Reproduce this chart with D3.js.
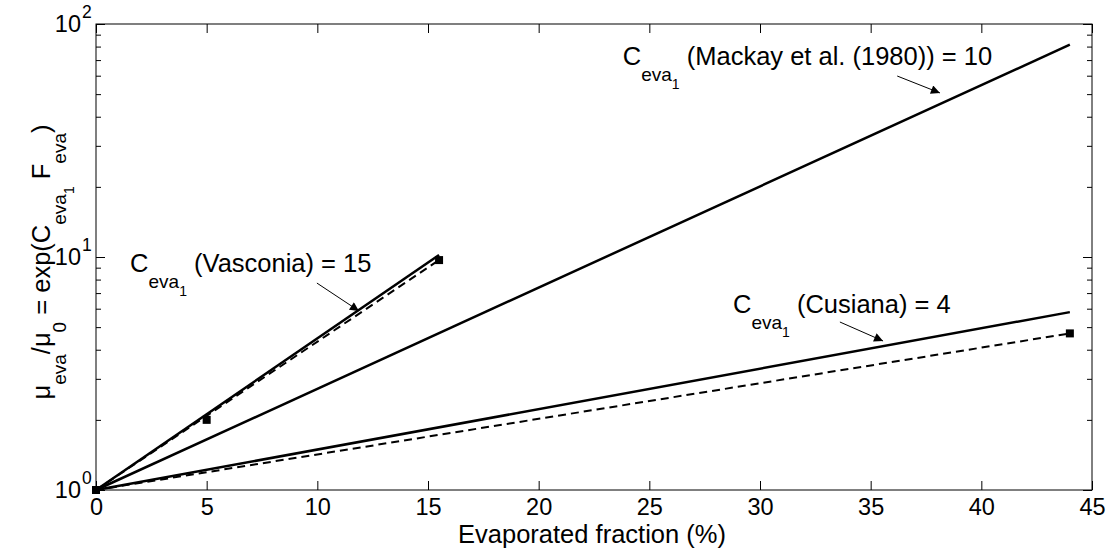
<!DOCTYPE html>
<html>
<head>
<meta charset="utf-8">
<script src="https://cdn.jsdelivr.net/npm/d3@7"></script>
<style>
  html, body { margin: 0; padding: 0; background: #fff; }
  svg { display: block; font-family: "Liberation Sans", Arial, sans-serif; }
</style>
</head>
<body>
<svg id="chart" width="1110" height="549"></svg>
<script>
// ---------- data ----------
const xTicks = [0, 5, 10, 15, 20, 25, 30, 35, 40, 45];
const yTicks = [1, 10, 100];
const yTickExponents = ["0", "1", "2"];
const yMinorTicks = [2, 3, 4, 5, 6, 7, 8, 9, 20, 30, 40, 50, 60, 70, 80, 90];

// model curves mu/mu0 = exp(C*F) (straight on log axis): endpoints [F%, ratio]
const vasconiaModel = [[0, 1], [15.5, 10.2]];
const mackayModel   = [[0, 1], [44, 81.5]];
const cusianaModel  = [[0, 1], [44, 5.8]];

// measured (dashed) fits and measured points
const vasconiaFit = [[0, 1], [15.5, 9.7]];
const cusianaFit  = [[0, 1], [44, 4.7]];
const measuredPoints = [[0, 1], [5, 2.0], [15.5, 9.7], [44, 4.7]];

// annotations: label anchor (data), arrow start & tip (data)
const annotations = [
  { name: "(Vasconia) = 15", at: [1.54, 8.62], from: [9.98, 7.73], to: [11.88, 5.87] },
  { name: "(Mackay et al. (1980)) = 10", at: [23.8, 66.7], from: [36.2, 59.8], to: [38.13, 50.6] },
  { name: "(Cusiana) = 4", at: [28.78, 5.75], from: [33.61, 5.26], to: [35.56, 4.36] }
];

// ---------- layout ----------
const L = 96, R = 1092, T = 24, B = 490;
const svg = d3.select("#chart");
const x = d3.scaleLinear().domain([0, 45]).range([L, R]);
const y = d3.scaleLog().domain([1, 100]).range([B, T]);

const MAIN = 25.5, SUB = 19, SUBSUB = 14;
const SUBSHIFT = 16, SUBSUBSHIFT = 8;

// rich text helper: segments [text, level]
function richText(sel, segs, size0, size1, size2) {
  const sizes = [size0, size1, size2];
  const offs = [0, SUBSHIFT, SUBSHIFT + SUBSUBSHIFT];
  let cur = 0;
  segs.forEach(([t, lvl]) => {
    sel.append("tspan")
      .attr("dy", offs[lvl] - cur)
      .attr("font-size", sizes[lvl])
      .text(t);
    cur = offs[lvl];
  });
}

// ---------- axes ----------
const gx = svg.append("g").attr("transform", `translate(0,${B})`)
  .call(d3.axisBottom(x).tickValues(xTicks).tickSize(-9).tickPadding(8).tickFormat(d3.format("d")));
const gxt = svg.append("g").attr("transform", `translate(0,${T})`)
  .call(d3.axisTop(x).tickValues(xTicks).tickSize(-9).tickFormat(""));
const gyl = svg.append("g").attr("transform", `translate(${L},0)`)
  .call(d3.axisLeft(y).tickValues(yTicks).tickSize(-9).tickFormat(""));
const gyr = svg.append("g").attr("transform", `translate(${R},0)`)
  .call(d3.axisRight(y).tickValues(yTicks).tickSize(-9).tickFormat(""));
const gylm = svg.append("g").attr("transform", `translate(${L},0)`)
  .call(d3.axisLeft(y).tickValues(yMinorTicks).tickSize(-5).tickFormat(""));
const gyrm = svg.append("g").attr("transform", `translate(${R},0)`)
  .call(d3.axisRight(y).tickValues(yMinorTicks).tickSize(-5).tickFormat(""));
[gx, gxt, gyl, gyr, gylm, gyrm].forEach(g => {
  g.select(".domain").remove();
  g.selectAll(".tick line").attr("stroke", "#000").attr("stroke-width", 1);
});
gx.selectAll(".tick text").attr("font-size", 23.5).attr("fill", "#000")
  .attr("font-family", "Liberation Sans, Arial, sans-serif");

// y tick labels 10^n
yTicks.forEach((v, i) => {
  svg.append("text").attr("x", 81).attr("y", y(v) + 8)
    .attr("text-anchor", "end").attr("font-size", 23.5).attr("fill", "#000").text("10");
  svg.append("text").attr("x", 82).attr("y", y(v) - 6)
    .attr("font-size", 17.5).attr("fill", "#000").text(yTickExponents[i]);
});

// box
svg.append("rect").attr("x", L).attr("y", T).attr("width", R - L).attr("height", B - T)
  .attr("fill", "none").attr("stroke", "#000").attr("stroke-width", 1);

// ---------- lines ----------
const line = d3.line().x(d => x(d[0])).y(d => y(d[1]));
[vasconiaModel, mackayModel, cusianaModel].forEach(d => {
  svg.append("path").datum(d).attr("d", line)
    .attr("fill", "none").attr("stroke", "#000").attr("stroke-width", 2.5);
});
[vasconiaFit, cusianaFit].forEach(d => {
  svg.append("path").datum(d).attr("d", line)
    .attr("fill", "none").attr("stroke", "#000").attr("stroke-width", 2)
    .attr("stroke-dasharray", "8,5");
});
svg.selectAll("rect.pt").data(measuredPoints).enter().append("rect")
  .attr("class", "pt")
  .attr("x", d => x(d[0]) - 4).attr("y", d => y(d[1]) - 4)
  .attr("width", 8).attr("height", 8).attr("fill", "#000");

// ---------- annotations ----------
svg.append("defs").append("marker").attr("id", "arr")
  .attr("viewBox", "0 0 10 10").attr("refX", 10).attr("refY", 5)
  .attr("markerUnits", "userSpaceOnUse")
  .attr("markerWidth", 14).attr("markerHeight", 9).attr("orient", "auto")
  .append("path").attr("d", "M0,0 L10,5 L0,10 Z").attr("fill", "#000");

annotations.forEach(a => {
  const t = svg.append("text").attr("x", x(a.at[0])).attr("y", y(a.at[1])).attr("fill", "#000");
  richText(t, [["C", 0], ["eva", 1], ["1", 2], [" " + a.name, 0]], MAIN, SUB, SUBSUB);
  svg.append("line")
    .attr("x1", x(a.from[0])).attr("y1", y(a.from[1]))
    .attr("x2", x(a.to[0])).attr("y2", y(a.to[1]))
    .attr("stroke", "#000").attr("stroke-width", 1).attr("marker-end", "url(#arr)");
});

// ---------- axis titles ----------
svg.append("text").attr("x", (L + R) / 2 - 2).attr("y", 543).attr("text-anchor", "middle")
  .attr("font-size", 25.5).attr("fill", "#000").text("Evaporated fraction (%)");

const yt = svg.append("text").attr("transform", `translate(50,${(T + B) / 2 + 5}) rotate(-90)`)
  .attr("text-anchor", "middle").attr("fill", "#000");
richText(yt, [["μ", 0], ["eva", 1], ["/μ", 0], ["0", 1], [" = exp(C", 0], ["eva", 1], ["1", 2],
  [" F", 0], ["eva", 1], [")", 0]], MAIN, SUB, SUBSUB);
</script>
</body>
</html>
